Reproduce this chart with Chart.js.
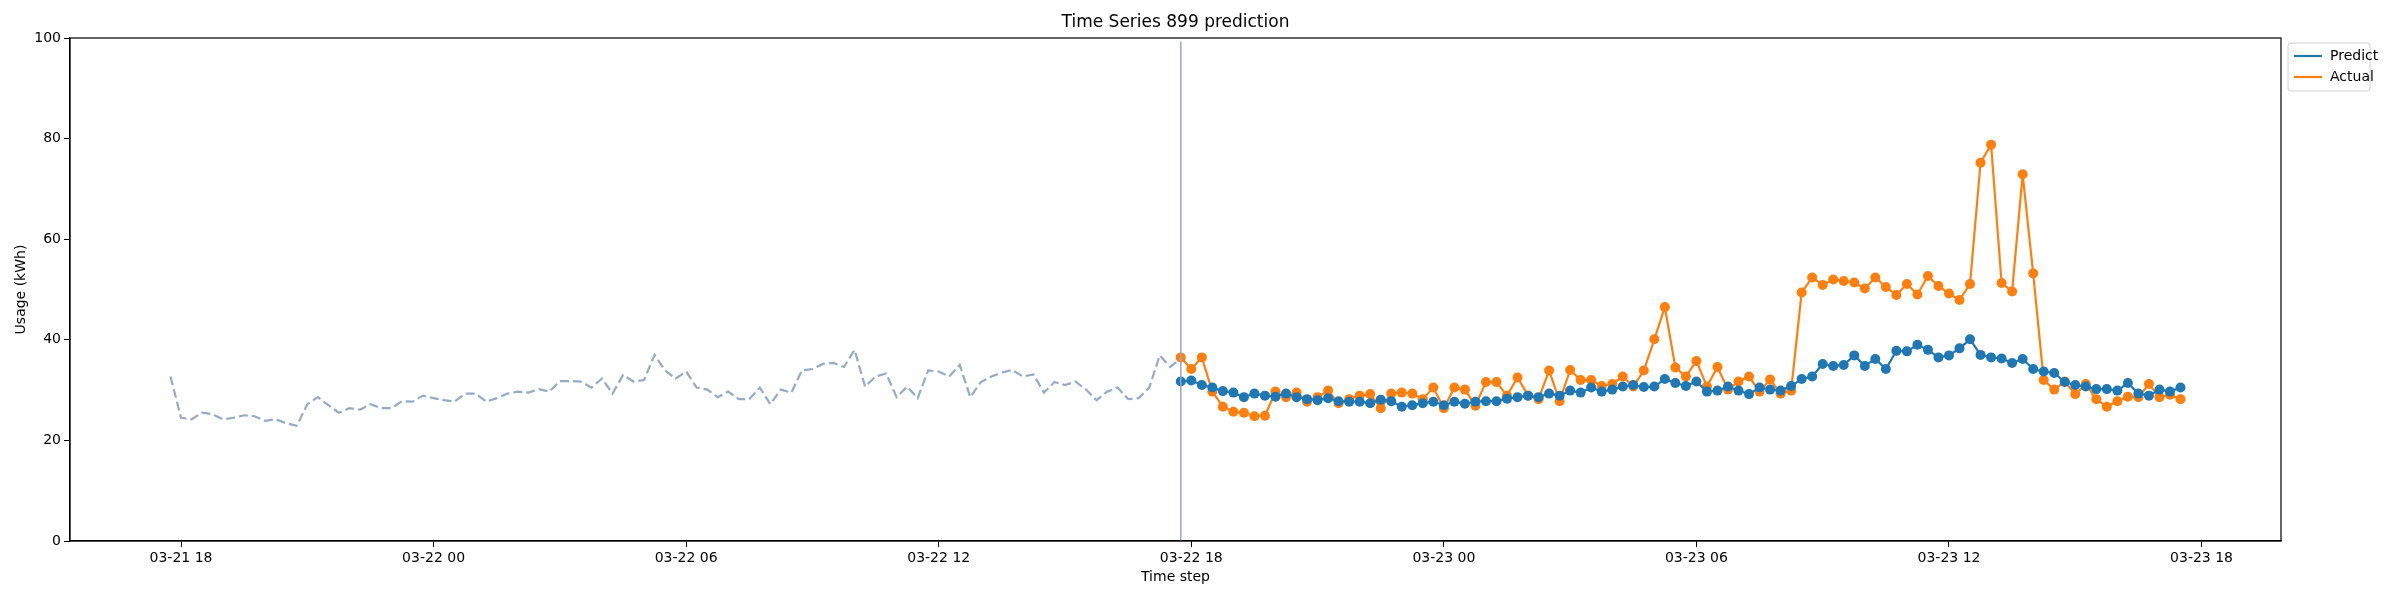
<!DOCTYPE html>
<html>
<head>
<meta charset="utf-8">
<script src="https://cdn.jsdelivr.net/npm/chart.js@4.4.0/dist/chart.umd.min.js"></script>
<style>
  html, body { margin: 0; padding: 0; background: #fff; }
  #wrap { width: 2400px; height: 600px; }
</style>
</head>
<body>
<div id="wrap"><canvas id="chart" width="2400" height="600"></canvas></div>
<script>
// hours counted from 03-21 00:00, one point every 15 minutes
const historyStart = 17.75;
const predictStart = 41.75;
const step = 0.25;

const historyValues = [
  32.7, 24.5, 24.2, 25.5, 25.2, 24.2, 24.5, 25.0, 24.8, 23.9, 24.2, 23.4, 22.9, 27.2, 28.6, 27.0,
  25.5, 26.4, 26.1, 27.2, 26.4, 26.4, 27.8, 27.7, 28.9, 28.4, 28.0, 27.7, 29.3, 29.3, 27.7, 28.4,
  29.3, 29.7, 29.5, 30.2, 29.7, 31.8, 31.8, 31.7, 30.5, 32.3, 29.3, 33.0, 31.7, 32.0, 37.0, 33.9,
  32.3, 33.7, 30.5, 30.1, 28.6, 29.7, 28.2, 28.2, 30.5, 27.2, 30.1, 29.5, 33.9, 34.2, 35.2, 35.4,
  34.6, 38.0, 30.7, 32.7, 33.3, 28.6, 30.7, 28.4, 33.9, 33.7, 32.7, 35.0, 28.6, 31.6, 32.7, 33.5,
  34.0, 32.7, 33.1, 29.5, 31.6, 31.0, 31.7, 30.1, 28.0, 29.7, 30.5, 28.2, 28.4, 30.5, 36.9, 34.6,
  36.3
];

const predictValues = [
  31.7, 31.9, 31.0, 30.5, 29.8, 29.5, 28.6, 29.3, 28.9, 28.7, 29.3, 28.6, 28.2, 28.0, 28.4, 27.8,
  27.7, 27.7, 27.4, 28.1, 27.8, 26.7, 27.0, 27.4, 27.7, 27.0, 27.7, 27.3, 27.7, 27.8, 27.8, 28.3,
  28.6, 28.9, 28.6, 29.3, 28.9, 29.9, 29.5, 30.5, 29.7, 30.1, 30.7, 31.0, 30.6, 30.7, 32.2, 31.4,
  30.8, 31.7, 29.7, 29.9, 30.7, 29.9, 29.2, 30.5, 30.1, 29.9, 30.8, 32.2, 32.7, 35.2, 34.8, 35.0,
  36.9, 34.8, 36.2, 34.2, 37.8, 37.7, 39.0, 38.0, 36.5, 36.9, 38.3, 40.1, 37.0, 36.5, 36.3, 35.4,
  36.2, 34.2, 33.7, 33.4, 31.6, 31.0, 30.7, 30.2, 30.2, 29.9, 31.4, 29.3, 28.9, 30.1, 29.7, 30.5
];

const actualValues = [
  36.5, 34.2, 36.5, 29.7, 26.7, 25.7, 25.5, 24.8, 24.9, 29.7, 28.6, 29.5, 27.7, 28.6, 29.9, 27.4,
  28.2, 28.9, 29.2, 26.4, 29.3, 29.5, 29.3, 28.2, 30.5, 26.4, 30.5, 30.1, 26.9, 31.6, 31.6, 28.9,
  32.5, 28.9, 28.2, 33.9, 27.8, 34.0, 32.0, 32.0, 30.8, 31.2, 32.7, 30.7, 33.9, 40.1, 46.5, 34.5,
  32.7, 35.8, 30.7, 34.6, 30.1, 31.7, 32.7, 29.7, 32.1, 29.3, 29.9, 49.4, 52.4, 50.9, 52.0, 51.7,
  51.4, 50.2, 52.4, 50.5, 48.9, 51.1, 49.0, 52.7, 50.7, 49.2, 47.9, 51.1, 75.2, 78.8, 51.3, 49.6,
  72.9, 53.2, 32.0, 30.1, 31.7, 29.2, 31.2, 28.2, 26.7, 27.8, 28.7, 28.6, 31.2, 28.6, 29.1, 28.2
];

const xTicks = [18, 24, 30, 36, 42, 48, 54, 60, 66];
const xTickLabels = ['03-21 18', '03-22 00', '03-22 06', '03-22 12', '03-22 18',
                     '03-23 00', '03-23 06', '03-23 12', '03-23 18'];
const yTicks = [0, 20, 40, 60, 80, 100];

const toPoints = (start, values) => values.map((v, i) => ({ x: start + i * step, y: v }));

const xMin = historyStart - 0.05 * (predictStart + (predictValues.length - 1) * step - historyStart);
const xMax = predictStart + (predictValues.length - 1) * step + (predictStart - xMin) * 0 + 0.05 * (predictStart + (predictValues.length - 1) * step - historyStart);

const FONT = 'DejaVu Sans';

const frame = {
  id: 'frame',
  afterDraw(chart) {
    const { ctx, chartArea: a } = chart;
    ctx.save();
    ctx.strokeStyle = '#000';
    ctx.lineWidth = 1.2;
    ctx.strokeRect(a.left, a.top, a.right - a.left, a.bottom - a.top);

    ctx.fillStyle = '#000';
    ctx.font = '17px ' + FONT;
    ctx.textAlign = 'center';
    ctx.textBaseline = 'middle';
    ctx.fillText('Time Series 899 prediction', (a.left + a.right) / 2, 23);

    ctx.font = '14px ' + FONT;
    ctx.fillText('Time step', (a.left + a.right) / 2, 577);
    ctx.save();
    ctx.translate(21, (a.top + a.bottom) / 2);
    ctx.rotate(-Math.PI / 2);
    ctx.fillText('Usage (kWh)', 0, 0);
    ctx.restore();

    // legend
    const lx = 2288, ly = 43;
    ctx.fillStyle = '#fff';
    ctx.strokeStyle = '#d0d0d0';
    ctx.lineWidth = 1;
    ctx.beginPath();
    ctx.roundRect(lx, ly, 82, 48, 3);
    ctx.fill();
    ctx.stroke();
    const items = [['Predict', '#1f77b4'], ['Actual', '#ff7f0e']];
    ctx.textAlign = 'left';
    items.forEach(([label, color], i) => {
      const y = ly + 13 + i * 21;
      ctx.strokeStyle = color;
      ctx.lineWidth = 2.2;
      ctx.beginPath();
      ctx.moveTo(lx + 6, y);
      ctx.lineTo(lx + 34, y);
      ctx.stroke();
      ctx.fillStyle = '#000';
      ctx.fillText(label, lx + 42, y);
    });
    ctx.restore();
  }
};

new Chart(document.getElementById('chart'), {
  type: 'line',
  data: {
    datasets: [{
      label: 'History',
      data: toPoints(historyStart, historyValues),
      borderColor: '#94abc8',
      borderWidth: 2.2,
      borderDash: [9, 4],
      pointRadius: 0,
      tension: 0
    }, {
      label: 'Split',
      data: [{ x: predictStart, y: 0 }, { x: predictStart, y: 99.3 }],
      borderColor: '#9aa6c8',
      borderWidth: 1.5,
      pointRadius: 0
    }, {
      label: 'Predict',
      data: toPoints(predictStart, predictValues),
      borderColor: '#1f77b4',
      backgroundColor: '#1f77b4',
      borderWidth: 2.2,
      pointRadius: 5,
      pointBorderWidth: 0,
      tension: 0
    }, {
      label: 'Actual',
      data: toPoints(predictStart, actualValues),
      borderColor: '#ff7f0e',
      backgroundColor: '#ff7f0e',
      borderWidth: 2.2,
      pointRadius: 5,
      pointBorderWidth: 0,
      tension: 0
    }]
  },
  options: {
    responsive: false,
    animation: false,
    devicePixelRatio: 1,
    layout: { padding: { left: 0, right: 119, top: 38, bottom: 0 } },
    plugins: { legend: { display: false }, title: { display: false }, tooltip: { enabled: false } },
    scales: {
      x: {
        type: 'linear',
        min: xMin,
        max: xMax,
        afterBuildTicks: scale => { scale.ticks = xTicks.map(v => ({ value: v })); },
        afterFit: scale => { scale.height = 59; },
        ticks: {
          callback: v => xTickLabels[xTicks.indexOf(v)],
          font: { family: FONT, size: 14 },
          color: '#000',
          maxRotation: 0,
          autoSkip: false
        },
        grid: { drawOnChartArea: false, drawTicks: true, tickLength: 6, color: '#000' },
        border: { color: '#000', width: 1.2 }
      },
      y: {
        min: 0,
        max: 100,
        afterBuildTicks: scale => { scale.ticks = yTicks.map(v => ({ value: v })); },
        afterFit: scale => { scale.width = 70; },
        ticks: { font: { family: FONT, size: 14 }, color: '#000' },
        grid: { drawOnChartArea: false, drawTicks: true, tickLength: 6, color: '#000' },
        border: { color: '#000', width: 1.2 }
      }
    }
  },
  plugins: [frame]
});
</script>
</body>
</html>
